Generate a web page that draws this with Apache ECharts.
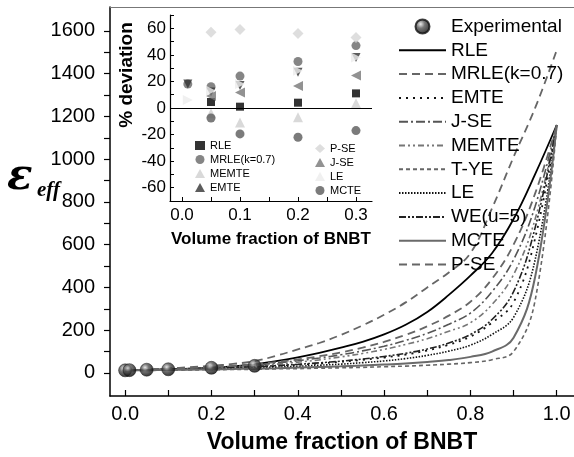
<!doctype html>
<html>
<head>
<meta charset="utf-8">
<title>BNBT permittivity</title>
<script src="https://cdn.jsdelivr.net/npm/echarts@6/dist/echarts.min.js"></script>
<style>
  html, body { margin: 0; padding: 0; background: #fff; }
  #main { width: 574px; height: 457px; }
</style>
</head>
<body>
<div id="main"></div>
<script>
// volume fraction of BNBT for the model curves (step 0.05)
var xs = [0, 0.05, 0.1, 0.15, 0.2, 0.25, 0.3, 0.35, 0.4, 0.45, 0.5, 0.55, 0.6, 0.65, 0.7, 0.75, 0.8, 0.85, 0.9, 0.95, 1.0];
var rle   = [12, 14, 17, 20, 25, 31, 40, 55, 73, 94, 118, 145, 180, 225, 285, 365, 455, 560, 720, 930, 1160];
var mrle  = [12, 16, 21, 27, 33, 42, 55, 80, 110, 140, 178, 222, 272, 330, 400, 470, 560, 770, 1010, 1240, 1510];
var emte  = [12, 14, 16, 18, 21, 24, 28, 33, 38, 44, 52, 61, 72, 86, 105, 132, 170, 235, 330, 630, 1160];
var jse   = [12, 14, 18, 21, 25, 30, 37, 46, 57, 70, 85, 103, 125, 152, 185, 228, 280, 380, 530, 780, 1160];
var memte = [12, 14, 17, 20, 23, 28, 33, 41, 50, 61, 75, 91, 110, 133, 160, 195, 235, 320, 460, 720, 1160];
var tye   = [12, 12, 13, 14, 15, 16, 17, 19, 20, 22, 24, 26, 29, 32, 36, 41, 48, 62, 100, 340, 1160];
var le    = [12, 13, 15, 17, 19, 21, 24, 27, 31, 36, 41, 48, 56, 67, 82, 102, 130, 180, 260, 530, 1160];
var we    = [12, 14, 16, 18, 21, 25, 29, 34, 40, 47, 55, 65, 77, 92, 112, 140, 180, 250, 380, 680, 1160];
var mcte  = [12, 13, 14, 15, 17, 18, 20, 22, 25, 28, 31, 35, 39, 44, 51, 60, 75, 100, 165, 450, 1160];
var pse   = [12, 15, 19, 23, 27, 33, 41, 51, 63, 78, 96, 118, 145, 178, 218, 268, 333, 440, 600, 840, 1160];

// experimental points
var expX = [0, 0.01, 0.05, 0.1, 0.2, 0.3];
var expY = [12, 13, 15, 17, 24, 33];

// inset: % deviation
var devX     = [0.01, 0.05, 0.1, 0.2, 0.3];
var devRLE   = [null, 4.5, 1, 4, 11];
var devMRLE  = [18, 16, 24, 35, 47];
var devMEMTE = [null, -4, -11, -7, 3.5];
var devEMTE  = [18, 12, 17, 27, 38];
var devPSE   = [null, 57, 59, 56, 53];
var devJSE   = [null, 9, 11.6, 16.6, 24.5];
var devLE    = [6, 13, 18, 28, 38];
var devMCTE  = [null, -7.5, -19.5, -22, -17];

var mainTicksX = [0, 0.1, 0.2, 0.3, 0.4, 0.5, 0.6, 0.7, 0.8, 0.9, 1.0];
var mainLabelsX = [0, 0.2, 0.4, 0.6, 0.8, 1.0];
var mainTicksY = [0, 100, 200, 300, 400, 500, 600, 700, 800, 900, 1000, 1100, 1200, 1300, 1400, 1500, 1600];
var mainLabelsY = [0, 200, 400, 600, 800, 1000, 1200, 1400, 1600];
var insetTicksX = [0, 0.05, 0.1, 0.15, 0.2, 0.25, 0.3];
var insetLabelsX = [0, 0.1, 0.2, 0.3];
var insetTicksY = [-70, -60, -50, -40, -30, -20, -10, 0, 10, 20, 30, 40, 50, 60, 70];
var insetLabelsY = [-60, -40, -20, 0, 20, 40, 60];

var FONT = 'Liberation Sans, Arial, sans-serif';

function pairs(x, y) {
  var out = [];
  for (var i = 0; i < x.length; i++) {
    if (y[i] !== null) out.push([x[i], y[i]]);
  }
  return out;
}

function curve(name, data, color, type, width) {
  return {
    name: name, type: 'line', xAxisIndex: 0, yAxisIndex: 0,
    data: pairs(xs, data), symbol: 'none', smooth: 0.4,
    lineStyle: { color: color, type: type, width: width },
    itemStyle: { color: color }
  };
}

function dev(name, data, symbol, rot, color, size) {
  return {
    name: 'd ' + name, type: 'scatter', xAxisIndex: 1, yAxisIndex: 1,
    data: pairs(devX, data), symbol: symbol, symbolRotate: rot, symbolSize: size,
    itemStyle: { color: color }, z: 4
  };
}

var sphere = {
  type: 'radial', x: 0.38, y: 0.35, r: 0.65,
  colorStops: [
    { offset: 0, color: '#e6e6e6' },
    { offset: 0.4, color: '#555' },
    { offset: 1, color: '#050505' }
  ]
};

var series = [
  curve('RLE', rle, '#000', 'solid', 1.8),
  curve('MRLE(k=0.7)', mrle, '#666', [8, 5], 1.8),
  curve('EMTE', emte, '#111', [2, 5], 1.8),
  curve('J-SE', jse, '#555', [9, 3, 2, 3], 1.6),
  curve('MEMTE', memte, '#777', [6, 3, 2, 3, 2, 3], 1.6),
  curve('T-YE', tye, '#666', [4, 3], 1.6),
  curve('LE', le, '#111', [1.5, 1.5], 1.6),
  curve('WE(u=5)', we, '#222', [7, 2, 2, 2, 2, 2], 1.6),
  curve('MCTE', mcte, '#6a6a6a', 'solid', 2),
  curve('P-SE', pse, '#666', [8, 5], 1.8),
  {
    name: 'Experimental', type: 'scatter', xAxisIndex: 0, yAxisIndex: 0,
    data: pairs(expX, expY), symbol: 'circle', symbolSize: 13,
    itemStyle: { color: sphere, borderColor: '#111', borderWidth: 0.6 }, z: 6
  },
  dev('RLE', devRLE, 'rect', 0, '#000', 8),
  dev('MRLE(k=0.7)', devMRLE, 'circle', 0, '#666', 9),
  dev('MEMTE', devMEMTE, 'triangle', 0, '#cfcfcf', 10),
  dev('EMTE', devEMTE, 'triangle', 180, '#333', 9),
  dev('P-SE', devPSE, 'diamond', 0, '#d6d6d6', 11),
  dev('J-SE', devJSE, 'triangle', 90, '#777', 10),
  dev('LE', devLE, 'triangle', -90, '#ececec', 10),
  dev('MCTE', devMCTE, 'circle', 0, '#5a5a5a', 9)
];

// zero line of the inset
series[series.length - 1].markLine = {
  silent: true, symbol: 'none', label: { show: false },
  lineStyle: { color: '#000', type: 'solid', width: 1.2 },
  data: [{ yAxis: 0 }]
};

var lineNames = ['RLE', 'MRLE(k=0.7)', 'EMTE', 'J-SE', 'MEMTE', 'T-YE', 'LE', 'WE(u=5)', 'MCTE', 'P-SE'];
var mainLegend = [{ name: 'Experimental' }];
lineNames.forEach(function (n) {
  mainLegend.push({ name: n, itemStyle: { opacity: 0 } });
});

var myChart = echarts.init(document.getElementById('main'), null, { renderer: 'canvas' });

var option = {
  animation: false,
  backgroundColor: '#fff',
  textStyle: { fontFamily: FONT },
  grid: [
    { left: 110, top: 7, right: 0, bottom: 61, outerBoundsMode: 'none', containLabel: false },
    { left: 170, top: 15, width: 202, height: 186, outerBoundsMode: 'none', containLabel: false }
  ],
  xAxis: [
    {
      gridIndex: 0, type: 'value', min: -0.035, max: 1.04, position: 'bottom',
      axisLine: { onZero: false, lineStyle: { color: '#000', width: 1.5 } },
      axisTick: { inside: true, length: 6, customValues: mainTicksX, lineStyle: { color: '#000', width: 1.2 } },
      axisLabel: { customValues: mainLabelsX, margin: 8, fontSize: 20, color: '#000', fontFamily: FONT,
        formatter: function (v) { return v.toFixed(1); } },
      splitLine: { show: false },
      name: 'Volume fraction of BNBT', nameLocation: 'middle', nameGap: 35,
      nameTextStyle: { fontSize: 23, fontWeight: 'bold', color: '#000', fontFamily: FONT }
    },
    {
      gridIndex: 1, type: 'value', min: -0.0207, max: 0.3276, position: 'bottom',
      axisLine: { onZero: false, lineStyle: { color: '#000', width: 1.2 } },
      axisTick: { inside: true, length: 4, customValues: insetTicksX, lineStyle: { color: '#000' } },
      axisLabel: { customValues: insetLabelsX, margin: 6, fontSize: 17, color: '#000', fontFamily: FONT,
        formatter: function (v) { return v.toFixed(1); } },
      splitLine: { show: false },
      name: 'Volume fraction of BNBT', nameLocation: 'middle', nameGap: 30,
      nameTextStyle: { fontSize: 17, fontWeight: 'bold', color: '#000', fontFamily: FONT }
    },
    {
      gridIndex: 0, type: 'value', min: -0.035, max: 1.04, position: 'top',
      axisLine: { onZero: false, lineStyle: { color: '#777', width: 1 } },
      axisTick: { show: false }, axisLabel: { show: false }, splitLine: { show: false }
    }
  ],
  yAxis: [
    {
      gridIndex: 0, type: 'value', min: -108, max: 1712,
      axisLine: { onZero: false, lineStyle: { color: '#000', width: 1.5 } },
      axisTick: { inside: false, length: 6, customValues: mainTicksY, lineStyle: { color: '#000', width: 1.2 } },
      axisLabel: { customValues: mainLabelsY, margin: 15, fontSize: 20, color: '#000', fontFamily: FONT,
        formatter: function (v) { return String(v); } },
      splitLine: { show: false }
    },
    {
      gridIndex: 1, type: 'value', min: -70, max: 70,
      axisLine: { onZero: false, lineStyle: { color: '#000', width: 1.2 } },
      axisTick: { inside: true, length: 4, customValues: insetTicksY, lineStyle: { color: '#000' } },
      axisLabel: { customValues: insetLabelsY, margin: 4, fontSize: 17, color: '#000', fontFamily: FONT,
        formatter: function (v) { return String(v); } },
      splitLine: { show: false }
    }
  ],
  legend: [
    {
      orient: 'vertical', left: 393, top: 12, itemWidth: 47, itemHeight: 14, itemGap: 4.8,
      selectedMode: false,
      textStyle: { fontSize: 19, color: '#000', fontFamily: FONT },
      data: mainLegend
    },
    {
      orient: 'vertical', left: 190, top: 135, itemWidth: 10, itemHeight: 9, itemGap: 3,
      selectedMode: false,
      textStyle: { fontSize: 11, color: '#000', fontFamily: FONT },
      formatter: function (n) { return n.slice(2); },
      data: ['d RLE', 'd MRLE(k=0.7)', 'd MEMTE', 'd EMTE']
    },
    {
      orient: 'vertical', left: 310, top: 138, itemWidth: 10, itemHeight: 9, itemGap: 3,
      selectedMode: false,
      textStyle: { fontSize: 11, color: '#000', fontFamily: FONT },
      formatter: function (n) { return n.slice(2); },
      data: ['d P-SE', 'd J-SE', 'd LE', 'd MCTE']
    }
  ],
  graphic: [
    {
      type: 'text', left: 7, top: 157,
      style: { text: '\u03b5', fill: '#000', font: 'italic bold 42px "DejaVu Serif", serif' }
    },
    {
      type: 'text', left: 37, top: 180,
      style: { text: 'eff', fill: '#000', font: 'italic bold 21px "Liberation Serif", serif' }
    },
    {
      type: 'text', x: 127, y: 75, rotation: Math.PI / 2,
      style: { text: '% deviation', fill: '#000', align: 'center', verticalAlign: 'middle',
        font: 'bold 19px "Liberation Sans", Arial, sans-serif' }
    }
  ],
  series: series
};

myChart.setOption(option);
</script>
</body>
</html>
